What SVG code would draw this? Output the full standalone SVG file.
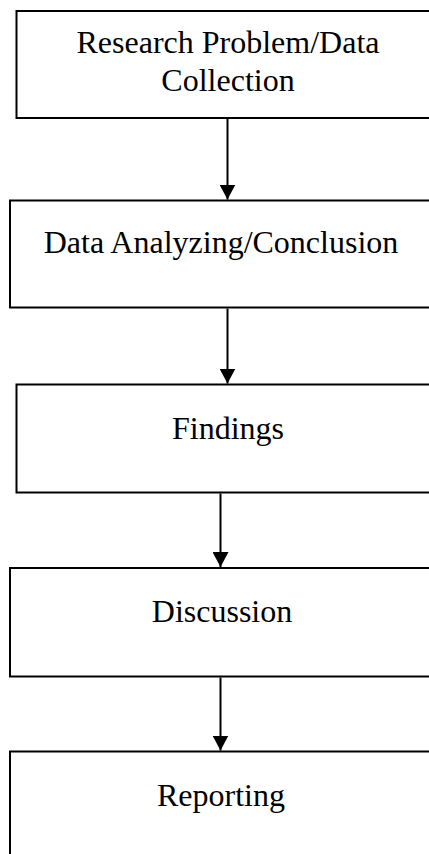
<svg xmlns="http://www.w3.org/2000/svg" width="429" height="854" viewBox="0 0 429 854">
<style>
.box{fill:#fff;stroke:#000;stroke-width:2}
.lbl{font-family:"Liberation Serif","Times New Roman",serif;font-size:32px;fill:#000;text-anchor:middle}
.conn{stroke:#000;stroke-width:2;fill:none}
</style>
<defs>
<marker id="ah" markerUnits="userSpaceOnUse" markerWidth="16" markerHeight="16" viewBox="0 0 16 16" refX="15" refY="8" orient="auto">
<path d="M0,0 L15,8 L0,16 Z" fill="#000"/>
</marker>
</defs>
<rect width="429" height="854" fill="#fff"/>
<g id="n1">
<rect class="box" x="16.5" y="11" width="430" height="107"/>
<text class="lbl" x="228" y="53">Research Problem/Data</text>
<text class="lbl" x="228" y="91">Collection</text>
</g>
<g id="n2">
<rect class="box" x="10" y="200.5" width="440" height="107"/>
<text class="lbl" x="221" y="253">Data Analyzing/Conclusion</text>
</g>
<g id="n3">
<rect class="box" x="16.5" y="384.5" width="430" height="108"/>
<text class="lbl" x="228" y="439">Findings</text>
</g>
<g id="n4">
<rect class="box" x="10" y="568" width="440" height="108.5"/>
<text class="lbl" x="222" y="622">Discussion</text>
</g>
<g id="n5">
<rect class="box" x="10" y="751.5" width="440" height="120"/>
<text class="lbl" x="221" y="806">Reporting</text>
</g>
<g id="connectors">
<line class="conn" x1="227.5" y1="119" x2="227.5" y2="199.5" marker-end="url(#ah)"/>
<line class="conn" x1="227.5" y1="308.5" x2="227.5" y2="383.5" marker-end="url(#ah)"/>
<line class="conn" x1="220.5" y1="493.5" x2="220.5" y2="567" marker-end="url(#ah)"/>
<line class="conn" x1="220.5" y1="677.5" x2="220.5" y2="750.5" marker-end="url(#ah)"/>
</g>
</svg>
